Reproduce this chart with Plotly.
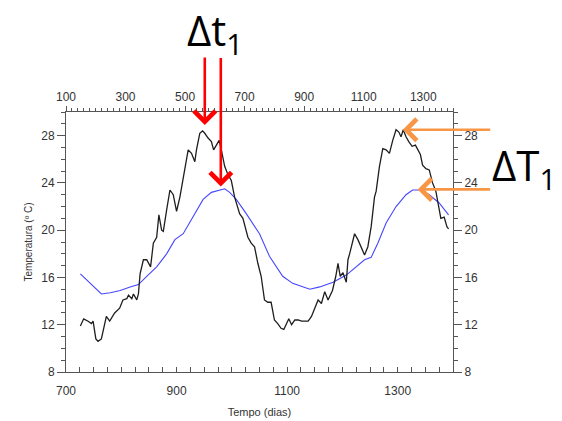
import plotly.graph_objects as go

# Black series (measured temperature)
days_black = [726, 732, 740, 746, 749, 754, 758, 764, 773, 779, 788, 797, 803, 810, 813, 819, 822, 828, 831, 834,
              840, 846, 853, 858, 864, 868, 873, 876, 882, 888, 894, 900, 906, 915, 921, 927, 933, 936, 942, 947,
              951, 957, 963, 967, 972, 977, 981, 987, 993, 999, 1005, 1014, 1020, 1029, 1035, 1041, 1047, 1053,
              1059, 1065, 1071, 1077, 1083, 1089, 1094, 1099, 1103, 1108, 1114, 1120, 1126, 1132, 1138, 1144,
              1150, 1156, 1162, 1168, 1174, 1182, 1188, 1192, 1196, 1201, 1207, 1210, 1213, 1216, 1222, 1228,
              1234, 1240, 1246, 1252, 1258, 1261, 1267, 1273, 1279, 1285, 1291, 1297, 1302, 1306, 1310, 1315,
              1320, 1326, 1332, 1336, 1341, 1345, 1351, 1357, 1363, 1369, 1375, 1378, 1384, 1389, 1392]
temp_black = [11.9, 12.5, 12.3, 12.1, 12.3, 10.8, 10.6, 10.8, 12.7, 12.3, 13.0, 13.4, 14.1, 14.2, 14.5, 14.2, 14.6,
              14.1, 14.6, 16.3, 17.5, 17.5, 16.9, 18.9, 19.4, 21.3, 20.0, 19.9, 21.7, 23.4, 23.0, 21.6, 22.8, 25.2,
              26.8, 26.5, 25.8, 26.8, 28.2, 28.4, 28.2, 27.8, 27.5, 26.8, 27.2, 27.6, 26.8, 25.4, 24.7, 24.2, 22.8,
              21.4, 21.0, 19.4, 18.9, 18.6, 17.2, 16.1, 14.1, 13.9, 13.9, 12.4, 12.1, 11.7, 11.6, 12.1, 12.5, 12.0,
              12.4, 12.4, 12.3, 12.3, 12.3, 12.7, 13.4, 14.1, 13.8, 14.8, 14.1, 14.9, 16.1, 17.2, 16.1, 16.4, 15.6,
              17.5, 18.0, 18.6, 19.7, 19.2, 18.6, 17.9, 18.6, 20.3, 22.8, 23.3, 25.4, 26.9, 26.8, 26.5, 27.6, 28.5,
              28.3, 27.9, 28.5, 27.9, 27.5, 27.1, 27.2, 26.8, 26.4, 25.5, 25.2, 25.1, 24.0, 23.3, 21.7, 21.0, 21.1,
              20.3, 20.1]

# Blue series (smoothed / deeper temperature)
days_blue = [726, 737, 749, 764, 780, 798, 816, 831, 846, 864, 882, 897, 912, 930, 948, 963, 978, 987, 996, 1008,
             1026, 1041, 1050, 1068, 1092, 1110, 1141, 1159, 1183, 1207, 1225, 1240, 1252, 1264, 1279, 1297, 1315,
             1327, 1342, 1357, 1375, 1392]
temp_blue = [16.3, 15.8, 15.2, 14.6, 14.7, 14.9, 15.2, 15.4, 16.1, 16.9, 18.0, 19.2, 19.7, 21.1, 22.6, 23.2, 23.4,
             23.5, 23.2, 22.6, 21.4, 20.3, 19.7, 17.8, 16.1, 15.5, 15.0, 15.2, 15.6, 16.2, 16.9, 17.5, 17.7, 18.9,
             20.6, 22.0, 23.0, 23.4, 23.4, 23.0, 22.3, 21.3]

# Arrow tip targets (day, temperature)
dt_tips = [(951, 28.9), (980, 23.7)]
dT_tips = [(1309, 28.5), (1336, 23.45)]

AX = "#555555"
TF = dict(family="Liberation Sans, Arial", size=12, color="#333333")

fig = go.Figure()
fig.add_trace(go.Scatter(x=days_blue, y=temp_blue, mode="lines",
                         line=dict(color="rgb(70,70,255)", width=1.1), showlegend=False))
fig.add_trace(go.Scatter(x=days_black, y=temp_black, mode="lines",
                         line=dict(color="#1e1e1e", width=1.3), showlegend=False))
# invisible helpers so top/right axes are drawn
fig.add_trace(go.Scatter(x=[100, 1400], y=[8, 8], xaxis="x2", yaxis="y2", mode="markers",
                         marker=dict(opacity=0), hoverinfo="skip", showlegend=False))

fig.update_layout(
    width=562, height=421,
    margin=dict(l=66, r=109, t=112, b=49, autoexpand=False),
    paper_bgcolor="white", plot_bgcolor="white",
    xaxis=dict(range=[700, 1400], tick0=700, dtick=200, ticks="inside", ticklen=5, tickcolor=AX,
               minor=dict(dtick=25, tick0=700, ticks="inside", ticklen=5, tickcolor=AX),
               showline=True, linecolor=AX, linewidth=1, showgrid=False, zeroline=False,
               tickfont=TF, ticklabelstandoff=8, automargin=False,
               title=dict(text="Tempo (dias)", font=dict(family="Liberation Sans, Arial", size=11, color="#333"),
                          standoff=10)),
    xaxis2=dict(range=[100, 1400], overlaying="x", side="top", tick0=100, dtick=200, ticks="outside",
                ticklen=5, tickcolor=AX, automargin=False,
                minor=dict(dtick=20, tick0=100, ticks="outside", ticklen=3, tickcolor=AX),
                showline=True, linecolor=AX, linewidth=1, showgrid=False, zeroline=False, tickfont=TF),
    yaxis=dict(range=[8, 30], tick0=8, dtick=4, ticks="outside", ticklen=8, tickcolor=AX, automargin=False,
               minor=dict(dtick=1, tick0=8, ticks="outside", ticklen=4, tickcolor=AX),
               showline=True, linecolor=AX, linewidth=1, showgrid=False, zeroline=False, tickfont=TF,
               title=dict(text="Temperatura (º C)", font=dict(family="Liberation Sans, Arial", size=10, color="#333"),
                          standoff=6)),
    yaxis2=dict(range=[8, 30], overlaying="y", side="right", tick0=8, dtick=4, ticks="outside", ticklen=8,
                tickcolor=AX, automargin=False,
                minor=dict(dtick=1, tick0=8, ticks="outside", ticklen=4, tickcolor=AX),
                showline=True, linecolor=AX, linewidth=1, showgrid=False, zeroline=False, tickfont=TF),
)

tails_red = [-69, -130]
for (d, t), ay in zip(dt_tips, tails_red):
    fig.add_annotation(x=d, y=t, xref="x", yref="y", text="", showarrow=True, ax=0, ay=ay,
                       arrowhead=4, arrowsize=1.6, arrowwidth=2.6, arrowcolor="#ff0000", standoff=0)
tails_orange = [89, 74]
for (d, t), ax in zip(dT_tips, tails_orange):
    fig.add_annotation(x=d, y=t, xref="x", yref="y", text="", showarrow=True, ax=ax, ay=0,
                       arrowhead=4, arrowsize=1.6, arrowwidth=2.6, arrowcolor="#f79646", standoff=0)

fig.add_annotation(x=0.385, y=1.305, xref="paper", yref="paper", text="Δt<sub>1</sub>", showarrow=False,
                   font=dict(family="Open Sans", size=42, color="black"), xanchor="center", yanchor="middle")
fig.add_annotation(x=1.095, y=0.785, xref="paper", yref="paper", text="ΔT<sub>1</sub>", showarrow=False,
                   font=dict(family="Open Sans", size=42, color="black"), xanchor="left", yanchor="middle")

fig.write_html("out.html")
